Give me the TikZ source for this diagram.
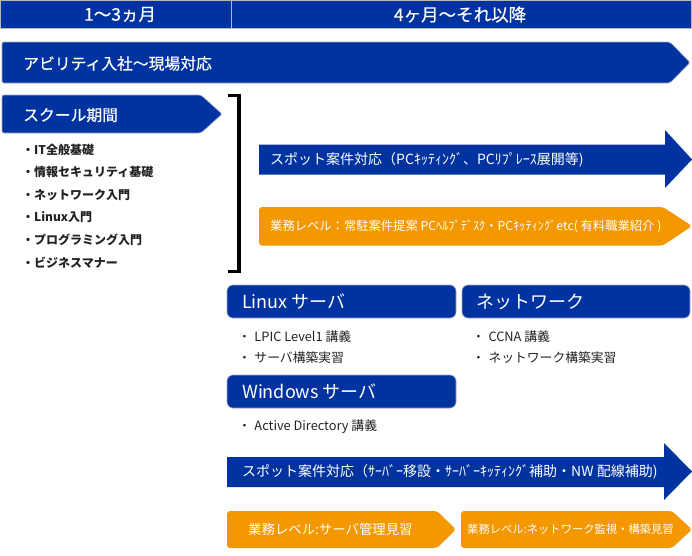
\documentclass[tikz,border=0pt]{standalone}
\usepackage{fontspec}
\newfontfamily\jp{Noto Sans CJK JP}
\newfontfamily\jpm[FakeBold=0.5]{Noto Sans CJK JP}
\begin{document}
\begin{tikzpicture}[x=1pt,y=-1pt]
\definecolor{navy}{RGB}{0,51,160}
\definecolor{orng}{RGB}{243,152,0}
\definecolor{edgec}{RGB}{160,168,196}
\definecolor{txt}{RGB}{34,34,34}
\tikzset{
  hdrcell/.style={fill=navy, draw=gray!55, line width=0.8pt},
  bluebox/.style={fill=navy, draw=edgec, line width=0.7pt, rounded corners=2pt},
  bluearr/.style={fill=navy, draw=none},
  orangebox/.style={fill=orng, draw=none, rounded corners=3pt},
  roundbox/.style={fill=navy, draw=edgec, line width=0.6pt, rounded corners=6pt},
  whitetxt/.style={text=white, font=\jp\fontsize{#1}{#1}\selectfont, inner sep=0pt},
  whitetxt/.default=14,
  whitebold/.style={text=white, font=\jpm\fontsize{#1}{#1}\selectfont, inner sep=0pt},
  listtxt/.style={text=txt, font=\jp\bfseries\fontsize{12}{12}\selectfont, inner sep=0pt, anchor=west},
  subtxt/.style={text=txt, font=\jp\fontsize{12.8}{12.8}\selectfont, inner sep=0pt, anchor=west},
  bracketline/.style={line width=3.5pt, draw=black}
}
\newcommand{\subdot}{・\hspace{3.5pt}}
\useasboundingbox (0,0) rectangle (692,555);
% header
\draw[hdrcell] (0.5,0.5) rectangle (231,28);
\draw[hdrcell] (231,0.5) rectangle (691.5,28);
\node[whitebold=17.5] (h1) at (120,14.5) {1〜3ヵ月};
\node[whitebold=17.5] (h2) at (460,14.5) {4ヶ月〜それ以降};
% main arrow
\draw[bluebox] (2,42) -- (670,42) -- (690,62.5) -- (670,83) -- (2,83) -- cycle;
\node[whitebold=15.8, anchor=west] (a1) at (23,63.5) {アビリティ入社〜現場対応};
% school
\draw[bluebox] (2,95) -- (201,95) -- (222,114) -- (201,133) -- (2,133) -- cycle;
\node[whitebold=15.8, anchor=west] (s1) at (23,115) {スクール期間};
\node[listtxt] (l1) at (22,150) {・IT全般基礎};
\node[listtxt] (l2) at (22,172) {・情報セキュリティ基礎};
\node[listtxt] (l3) at (22,195) {・ネットワーク入門};
\node[listtxt] (l4) at (22,217) {・Linux入門};
\node[listtxt] (l5) at (22,240) {・プログラミング入門};
\node[listtxt] (l6) at (22,263) {・ビジネスマナー};
% bracket
\draw[bracketline] (228,95.5) -- (239,95.5) -- (239,271.5) -- (228,271.5);
% spot arrow 1
\fill[bluearr] (259,144.5) -- (665,144.5) -- (665,130) -- (692,159.5) -- (665,188) -- (665,174.5) -- (259,174.5) -- cycle;
\node[whitetxt=14, anchor=west] (b1) at (270,159.5) {スポット案件対応（PCｷｯﾃｨﾝｸﾞ、PCﾘﾌﾟﾚｰｽ展開等)};
% orange 1
\fill[orangebox] (259,207) -- (663,207) -- (692,226) -- (663,245.5) -- (259,245.5) -- cycle;
\node[whitetxt=12.3, anchor=west] (o1) at (270,226.5) {業務レベル：常駐案件提案 PCﾍﾙﾌﾟﾃﾞｽｸ・PCｷｯﾃｨﾝｸﾞetc( 有料職業紹介 )};
% linux / network / windows boxes
\draw[roundbox] (227,285) rectangle (456,318);
\node[whitetxt=18, anchor=west] (r1) at (242,301.5) {Linux サーバ};
\draw[roundbox] (462,285) rectangle (690,318);
\node[whitetxt=18, anchor=west] (r2) at (476,301.5) {ネットワーク};
\node[subtxt] (t1) at (238,337) {\subdot LPIC Level1 講義};
\node[subtxt] (t2) at (238,358) {\subdot サーバ構築実習};
\node[subtxt] (t3) at (472,337) {\subdot CCNA 講義};
\node[subtxt] (t4) at (472,358) {\subdot ネットワーク構築実習};
\draw[roundbox] (227,375) rectangle (456,408);
\node[whitetxt=18, anchor=west] (r3) at (242,391.5) {Windows サーバ};
\node[subtxt] (t5) at (238,427) {\subdot Active Directory 講義};
% spot arrow 2
\fill[bluearr] (227,457) -- (664,457) -- (664,443) -- (692,471.5) -- (664,500) -- (664,487) -- (227,487) -- cycle;
\node[whitetxt=14, anchor=west] (b2) at (242,472) {スポット案件対応（ｻｰﾊﾞｰ移設・ｻｰﾊﾞｰｷｯﾃｨﾝｸﾞ補助・NW 配線補助)};
% orange 2,3
\fill[orangebox] (227,511) -- (437,511) -- (456,529.5) -- (437,548) -- (227,548) -- cycle;
\node[whitetxt=13.4, anchor=west] (o2) at (248,529.5) {業務レベル:サーバ管理見習};
\fill[orangebox] (461,511) -- (672,511) -- (692,529.5) -- (672,548) -- (461,548) -- cycle;
\node[whitetxt=11.3, anchor=west] (o3) at (467,529.5) {業務レベル:ネットワーク監視・構築見習};
\end{tikzpicture}
\end{document}
